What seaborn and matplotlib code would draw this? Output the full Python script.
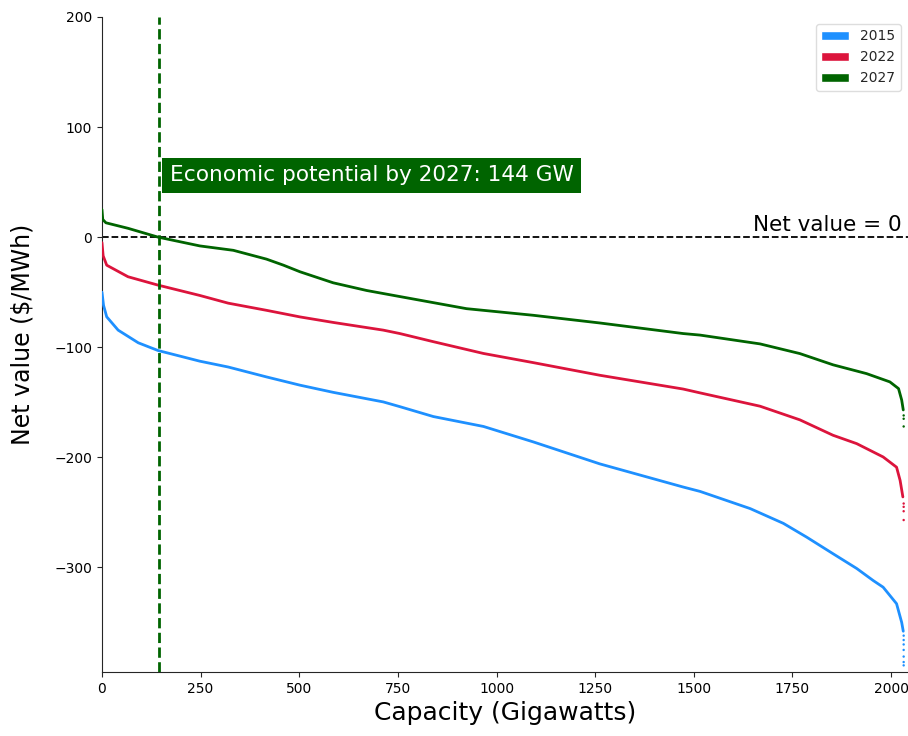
import pandas as pd
import seaborn as sns
import matplotlib.pyplot as plt
from matplotlib.patches import Patch

# supply curves: cumulative capacity (GW) vs net value ($/MWh)
cap_2015 = [0, 4, 12, 41, 92, 142, 248, 320, 417, 502, 586, 713, 755, 840, 967, 1093,
            1262, 1473, 1516, 1643, 1727, 1786, 1853, 1913, 1955, 1980, 2014, 2027, 2031]
val_2015 = [-50, -62, -72.4, -84.5, -96, -103, -112.7, -118, -127, -134.5, -141,
            -149.7, -154, -163, -172, -186, -206, -227, -231, -246.6, -260, -272.5,
            -287.6, -301, -312, -318, -333, -350, -358]
tail_2015 = [-362, -366, -370, -375, -381, -386, -389]

cap_2022 = [0, 3, 12, 66, 142, 248, 320, 417, 502, 586, 713, 755, 840, 967, 1093,
            1262, 1473, 1516, 1668, 1769, 1853, 1913, 1980, 2014, 2023, 2030]
val_2022 = [-5, -17, -25.5, -36, -43.6, -53, -60, -66.5, -72.5, -77.5, -84.5, -87.6,
            -95, -105.7, -114, -125.5, -138, -141.5, -153.6, -166, -180, -187.6,
            -199.7, -209, -221, -236]
tail_2022 = [-242, -245, -249, -257]

cap_2027 = [0, 2, 10, 66, 142, 248, 333, 417, 460, 502, 586, 671, 755, 924, 1093,
            1262, 1473, 1516, 1668, 1769, 1853, 1938, 1997, 2019, 2027, 2031]
val_2027 = [25, 16, 13, 8, 0, -8, -12, -20, -25.5, -31.5, -41.5, -48.5, -54, -65, -71,
            -78, -87.6, -89, -97, -105.8, -116, -124, -131.5, -137.6, -148, -157]
tail_2027 = [-162, -165, -172]

years = ['2015', '2022', '2027']
colors = {'2015': 'dodgerblue', '2022': 'crimson', '2027': 'darkgreen'}
tail_x = 2032
econ_potential = 144

curves = pd.concat([
    pd.DataFrame({'capacity': cap_2015, 'value': val_2015, 'year': '2015'}),
    pd.DataFrame({'capacity': cap_2022, 'value': val_2022, 'year': '2022'}),
    pd.DataFrame({'capacity': cap_2027, 'value': val_2027, 'year': '2027'}),
])
tails = pd.concat([
    pd.DataFrame({'capacity': tail_x, 'value': tail_2015, 'year': '2015'}),
    pd.DataFrame({'capacity': tail_x, 'value': tail_2022, 'year': '2022'}),
    pd.DataFrame({'capacity': tail_x, 'value': tail_2027, 'year': '2027'}),
])

sns.set_style('ticks')
fig = plt.figure(figsize=(9.08, 7.36), dpi=100)
ax = fig.add_axes([0.1123, 0.087, 0.8877, 0.890])

sns.lineplot(data=curves, x='capacity', y='value', hue='year', palette=colors,
             sort=False, estimator=None, linewidth=2, legend=False, ax=ax, zorder=3)
sns.scatterplot(data=tails, x='capacity', y='value', hue='year', palette=colors,
                s=3, linewidth=0, legend=False, ax=ax, zorder=3)

ax.axhline(0, color='black', linestyle='--', linewidth=1.3, zorder=2)
ax.axvline(econ_potential, color='darkgreen', linestyle='--', linewidth=2, zorder=4)

ax.text(172, 56, 'Economic potential by 2027: %d GW' % econ_potential, fontsize=15.6,
        color='white', va='center', ha='left',
        bbox=dict(facecolor='darkgreen', edgecolor='none', pad=5.5))
ax.text(2028, 2, 'Net value = 0', fontsize=15.5, ha='right', va='bottom', color='black')

ax.set_xlim(0, 2043)
ax.set_ylim(-395, 200)
ax.set_yticks([-300, -200, -100, 0, 100, 200])
ax.set_xticks([0, 250, 500, 750, 1000, 1250, 1500, 1750, 2000])
ax.tick_params(labelsize=10, labelcolor='black')
ax.set_xlabel('Capacity (Gigawatts)', fontsize=18, color='black')
ax.set_ylabel('Net value (\\$/MWh)', fontsize=17, color='black')
ax.yaxis.set_label_coords(-0.084, 0.516)
sns.despine(ax=ax)

handles = [Patch(facecolor=colors[y], label=y) for y in years]
ax.legend(handles=handles, loc='upper right', fontsize=10, framealpha=1,
          edgecolor='#dddddd')

plt.savefig('out.png', dpi=100)
